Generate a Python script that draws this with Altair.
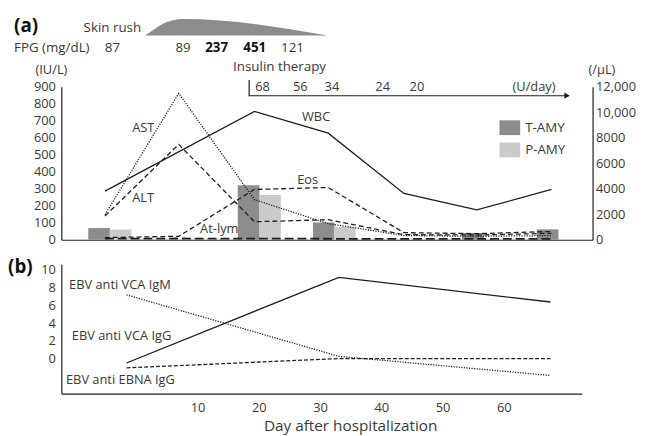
import altair as alt
import pandas as pd

FONT = "Open Sans"
INK = "#1e1e1e"
TXT = "#3a3a3a"

# ---------------- panel (a): laboratory data ----------------
days_a = [-5.82, 6.46, 19.06, 31.34, 43.94, 56.06, 68.5]
ast_vals = [147, 861, 236, 95, 25, 20, 25]          # IU/L
alt_vals = [140, 561, 106, 118, 30, 28, 38]         # IU/L
wbc_days = [-5.82, 19.06, 31.34, 43.94, 56.06, 68.5]
wbc_vals = [3813, 10061, 8358, 3635, 2342, 3945]    # /uL
eos_vals = [170, 275, 3945, 4100, 560, 480, 650]    # /uL
atlym_vals = [90, 100, 90, 80, 70, 70, 70]          # /uL
tamy_days = [-6.79, 18.09, 30.61, 55.4, 67.85]
tamy_vals = [69, 321, 102, 40, 61]
pamy_days = [-3.23, 21.65, 34.09]
pamy_vals = [60, 263, 75]

# line labels in panel (a)
a_labels = ["AST", "ALT", "WBC", "Eos", "At-lym"]
a_label_days = [-1.29, -1.29, 26.98, 26.17, 10.02]
a_label_pos = [657, 245, 721, 350, 65]

# header of panel (a)
head_labels = ["Skin rush", "FPG (mg/dL)", "Insulin therapy"]
head_days = [-9.37, -20.95, 15.51]
head_pos = [1244, 1128, 1017]
fpg_days = [-4.57, 7.19, 12.76, 19.11, 25.4]
fpg_text = ["87", "89", "237", "451", "121"]
fpg_bold = [False, False, True, True, False]
insulin_days = [20.4, 26.7, 31.96, 40.4, 46.1, 65.6]
insulin_text = ["68", "56", "34", "24", "20", "(U/day)"]
insulin_pos = 901
rash_days = [0.86, 2.47, 4.09, 5.70, 7.27, 31.02]
rash_top = [1201.6, 1239.9, 1274.7, 1292.1, 1297.9, 1203.3]
rash_base = 1201.6
arrow_days = [18.18, 18.18, 71.1]
arrow_pos = [940, 847, 847]

# ---------------- panel (b): EBV serology ----------------
days_b = [-1.62, 33.07, 67.64]
vca_igg = [-0.48, 9.16, 6.38]
vca_igm = [7.19, 0.27, -1.89]
ebna_igg = [-1.03, 0.02, 0.0]
b_labels = ["EBV anti VCA IgM", "EBV anti VCA IgG", "EBV anti EBNA IgG"]
b_label_days = [-11.0, -10.55, -11.5]
b_label_pos = [8.3, 2.6, -2.4]

# ---------------- scales / axes ----------------
xa_scale = alt.Scale(domain=[-12.26, 74.52], nice=False, zero=False)
xa_axis = alt.Axis(labels=False, ticks=False, title=None, grid=False,
                   domainColor=INK, domainWidth=1.2)
ya_scale = alt.Scale(domain=[0, 900], nice=False, zero=False)
ya_axis = alt.Axis(values=list(range(0, 901, 100)), title="(IU/L)", titleAngle=0,
                   titleAlign="center", titleBaseline="middle", titleX=-10.5, titleY=-17.5,
                   ticks=False, grid=False, labelPadding=6, labelFontSize=13,
                   titleFontSize=13, titleFontWeight="normal", domainColor=INK, domainWidth=1.2)
yr_scale = alt.Scale(domain=[0, 12000], nice=False, zero=False)
yr_axis = alt.Axis(orient="right", values=list(range(0, 12001, 2000)),
                   labelExpr="datum.value >= 10000 ? format(datum.value, ',') : format(datum.value, 'd')",
                   title="(/μL)", titleAngle=0, titleAlign="center", titleBaseline="middle",
                   titleX=9, titleY=-17, ticks=False, grid=False, labelPadding=3,
                   labelFontSize=13, titleFontSize=13, titleFontWeight="normal",
                   domainColor=INK, domainWidth=1.2)


def XA():
    return alt.X("day:Q", scale=xa_scale, axis=xa_axis)


def YA():
    return alt.Y("v:Q", scale=ya_scale, axis=ya_axis)


def YR():
    return alt.Y("v:Q", scale=yr_scale, axis=yr_axis)


def line(days, vals, yenc, **kw):
    df = pd.DataFrame({"day": days, "v": vals})
    return alt.Chart(df).mark_line(color=INK, strokeWidth=1.3, **kw).encode(x=XA(), y=yenc)


bar_df = pd.DataFrame({
    "day": tamy_days + pamy_days,
    "v": tamy_vals + pamy_vals,
    "series": ["T-AMY"] * len(tamy_vals) + ["P-AMY"] * len(pamy_vals),
})
bars = alt.Chart(bar_df).mark_bar(size=22).encode(
    x=XA(), y=YA(),
    color=alt.Color("series:N",
                    scale=alt.Scale(domain=["T-AMY", "P-AMY"], range=["#8c8c8e", "#cbcbcd"]),
                    legend=alt.Legend(orient="none", legendX=443.7, legendY=31, title=None,
                                      symbolType="M-1,-0.714H1V0.714H-1Z", symbolSize=441,
                                      symbolStrokeWidth=0, labelFontSize=13.5, labelOffset=5,
                                      rowPadding=4.5, padding=0)),
)

ast_line = line(days_a, ast_vals, YA(), strokeDash=[1.2, 1.4])
alt_line = line(days_a, alt_vals, YA(), strokeDash=[5, 3])

a_text = alt.Chart(pd.DataFrame({"day": a_label_days, "v": a_label_pos, "t": a_labels})).mark_text(
    align="left", baseline="middle", font=FONT, fontSize=13, color=TXT).encode(x=XA(), y=YA(), text="t:N")

head_text = alt.Chart(pd.DataFrame({"day": head_days, "v": head_pos, "t": head_labels})).mark_text(
    align="left", baseline="middle", font=FONT, fontSize=13.5, color=TXT).encode(x=XA(), y=YA(), text="t:N")
a_tag = alt.Chart(pd.DataFrame({"day": [-20.95], "v": [1255], "t": ["(a)"]})).mark_text(
    align="left", baseline="middle", font=FONT, fontSize=19, fontWeight="bold", color="#111").encode(
    x=XA(), y=YA(), text="t:N")

fpg_df = pd.DataFrame({"day": fpg_days, "v": [1128] * len(fpg_days), "t": fpg_text, "bold": fpg_bold})
fpg_reg = alt.Chart(fpg_df).transform_filter("!datum.bold").mark_text(
    align="center", baseline="middle", font=FONT, fontSize=13.5, color=TXT).encode(x=XA(), y=YA(), text="t:N")
fpg_b = alt.Chart(fpg_df).transform_filter("datum.bold").mark_text(
    align="center", baseline="middle", font=FONT, fontSize=13.5, fontWeight="bold", color="#111").encode(
    x=XA(), y=YA(), text="t:N")

ins_text = alt.Chart(pd.DataFrame({"day": insulin_days, "v": [insulin_pos] * len(insulin_days),
                                   "t": insulin_text})).mark_text(
    align="center", baseline="middle", font=FONT, fontSize=13, color=TXT).encode(x=XA(), y=YA(), text="t:N")

arrow_df = pd.DataFrame({"day": arrow_days, "v": arrow_pos, "o": list(range(len(arrow_days)))})
arrow_line = alt.Chart(arrow_df).mark_line(color=INK, strokeWidth=1.2).encode(x=XA(), y=YA(), order="o:Q")
arrow_head = alt.Chart(arrow_df.tail(1)).mark_point(shape="triangle-right", filled=True, size=40,
                                                    color=INK, opacity=1).encode(x=XA(), y=YA())

rash_df = pd.DataFrame({"day": rash_days, "v": rash_top, "b": [rash_base] * len(rash_days)})
rash = alt.Chart(rash_df).mark_area(color="#8c8c8e", interpolate="monotone").encode(
    x=XA(), y=YA(), y2="b:Q")

left_group = alt.layer(bars, ast_line, alt_line, a_text, rash, head_text, a_tag, fpg_reg, fpg_b,
                       ins_text, arrow_line, arrow_head)

wbc_line = line(wbc_days, wbc_vals, YR())
eos_line = line(days_a, eos_vals, YR(), strokeDash=[5, 3])
atlym_line = line(days_a, atlym_vals, YR(), strokeDash=[9, 4], strokeWidth=1.8) if False else \
    alt.Chart(pd.DataFrame({"day": days_a, "v": atlym_vals})).mark_line(
        color=INK, strokeWidth=1.8, strokeDash=[9, 4]).encode(x=XA(), y=YR())
right_group = alt.layer(wbc_line, eos_line, atlym_line)

panel_a = alt.layer(left_group, right_group).resolve_scale(y="independent").properties(width=538, height=155)

# ---------------- panel (b) ----------------
xb_scale = alt.Scale(domain=[-12.26, 72.74], nice=False, zero=False)
xb_axis = alt.Axis(values=[10, 20, 30, 40, 50, 60], ticks=False, grid=False,
                   title="Day after hospitalization", titleFontSize=15.5, titleFontWeight="normal",
                   titleX=292.5, titleY=37, titleBaseline="alphabetic", titleAlign="center",
                   labelPadding=8, labelFontSize=13, domainColor=INK, domainWidth=1.2)
yb_scale = alt.Scale(domain=[-3.92, 10.63], nice=False, zero=False)
yb_axis = alt.Axis(values=[0, 2, 4, 6, 8, 10], ticks=False, grid=False, title=None,
                   labelPadding=6, labelFontSize=13, domainColor=INK, domainWidth=1.2)


def XB():
    return alt.X("day:Q", scale=xb_scale, axis=xb_axis)


def YB():
    return alt.Y("v:Q", scale=yb_scale, axis=yb_axis)


def bline(vals, **kw):
    df = pd.DataFrame({"day": days_b, "v": vals})
    return alt.Chart(df).mark_line(color=INK, strokeWidth=1.3, **kw).encode(x=XB(), y=YB())


b_text = alt.Chart(pd.DataFrame({"day": b_label_days, "v": b_label_pos, "t": b_labels})).mark_text(
    align="left", baseline="middle", font=FONT, fontSize=13, color=TXT).encode(x=XB(), y=YB(), text="t:N")
b_tag = alt.Chart(pd.DataFrame({"day": [-20.95], "v": [10.3], "t": ["(b)"]})).mark_text(
    align="left", baseline="middle", font=FONT, fontSize=19, fontWeight="bold", color="#111").encode(
    x=XB(), y=YB(), text="t:N")

panel_b = alt.layer(
    bline(vca_igg),
    bline(vca_igm, strokeDash=[1.2, 1.4]),
    bline(ebna_igg, strokeDash=[4, 2]),
    b_text, b_tag,
).properties(width=527, height=131)

chart = alt.vconcat(panel_a, panel_b, spacing=24.75, bounds="flush").properties(
    padding={"left": 0, "top": 6, "right": 2, "bottom": 0}
).configure_axis(
    labelFont=FONT, titleFont=FONT, labelColor=TXT, titleColor=TXT
).configure_view(stroke=None).configure_legend(labelFont=FONT, labelColor=TXT)

chart.save("out.html", embed_options={"renderer": "svg", "actions": False})
